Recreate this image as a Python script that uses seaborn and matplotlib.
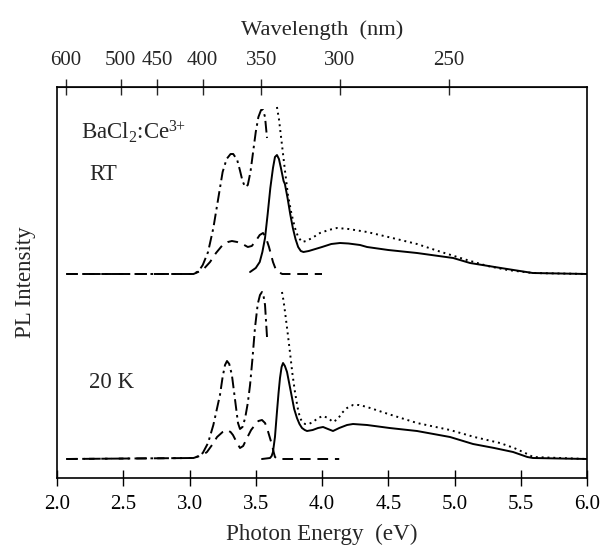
import numpy as np
import pandas as pd
import matplotlib
matplotlib.use("Agg")
import matplotlib.pyplot as plt
import seaborn as sns

# ---------------- data (photon energy eV, intensity a.u.) ----------------
# Room temperature: excitation (dash-dot), decomposed excitation (dashed),
# emission (solid) and emission under other excitation (dotted)
rt_exc_E = [2.07, 3.03, 3.07, 3.10, 3.14, 3.18, 3.22, 3.25, 3.28, 3.31, 3.33, 3.36, 3.38, 3.40, 3.42,
            3.44, 3.46, 3.48, 3.50, 3.52, 3.54, 3.555, 3.57, 3.585]
rt_exc_I = [0, 0, 3, 9, 22, 46, 78, 102, 115, 120, 120, 114, 104, 93, 87,
            89, 102, 122, 142, 157, 164, 164, 157, 136]

rt_dash_E = [2.07, 3.03, 3.10, 3.155, 3.20, 3.25, 3.29, 3.32, 3.36, 3.40, 3.44, 3.47, 3.50, 3.53, 3.555,
             3.575, 3.60, 3.63, 3.65, 3.67, 3.70, 4.00]
rt_dash_I = [0, 0, 4, 12, 21, 29, 32, 33, 32, 30, 27, 28, 33, 39, 41,
             37, 27, 12, 5, 2, 0, 0]

rt_em_E = [3.457, 3.50, 3.53, 3.55, 3.57, 3.59, 3.61, 3.63, 3.645, 3.66, 3.675, 3.69, 3.71, 3.72,
           3.74, 3.76, 3.78, 3.80, 3.82, 3.84, 3.86, 3.90, 3.95, 4.00, 4.07, 4.136, 4.20, 4.287,
           4.34, 4.50, 4.717, 4.99, 5.117, 5.35, 5.59, 6.0]
rt_em_I = [2, 6, 12, 22, 36, 60, 86, 106, 117, 119, 115, 106, 93, 90,
           76, 60, 46, 35, 27, 23, 22, 23, 25, 27, 30, 31, 30.5, 29,
           27, 24, 21, 16, 11, 6, 1, 0]

rt_dot_E = [3.66, 3.675, 3.698, 3.72, 3.743, 3.77, 3.796, 3.82, 3.849, 3.88, 3.925, 3.985, 4.05, 4.113,
            4.20, 4.34, 4.50, 4.717, 4.90, 5.094, 5.25, 5.40, 5.59, 6.0]
rt_dot_I = [167, 155, 129, 104, 79, 60, 46, 37, 32, 33, 36, 41, 44, 46,
            45, 42, 37, 30, 22, 14, 8, 4, 1, 0]

# 20 K
lt_exc_E = [2.07, 3.03, 3.07, 3.10, 3.14, 3.18, 3.21, 3.23, 3.25, 3.268, 3.283, 3.30, 3.32, 3.343,
            3.366, 3.381, 3.40, 3.42, 3.44, 3.457, 3.475, 3.494, 3.515, 3.532, 3.547, 3.56, 3.57, 3.585]
lt_exc_I = [0, 1, 3, 6, 16, 34, 52, 64, 82, 94, 98, 95, 84, 60,
            36, 30, 32, 41, 56, 74, 100, 131, 155, 164, 167, 162, 154, 122]

lt_dash_E = [2.07, 3.03, 3.10, 3.132, 3.17, 3.208, 3.25, 3.283, 3.31, 3.328, 3.355, 3.381, 3.405,
             3.434, 3.465, 3.494, 3.52, 3.547, 3.57, 3.585, 3.605, 3.623, 3.635, 3.645, 3.665, 4.13]
lt_dash_I = [0, 1, 4, 7, 14, 22, 27, 29, 27, 24, 17, 11, 13,
             21, 29, 34, 38, 39, 36, 31, 22, 14, 7, 2, 0, 0]

lt_em_E = [3.547, 3.608, 3.62, 3.63, 3.645, 3.66, 3.672, 3.683, 3.695, 3.706, 3.72, 3.736, 3.755,
           3.774, 3.79, 3.811, 3.83, 3.849, 3.87, 3.887, 3.93, 3.97, 4.008, 4.045, 4.083, 4.13,
           4.189, 4.234, 4.34, 4.51, 4.717, 4.966, 5.14, 5.30, 5.442, 5.55, 5.592, 6.0]
lt_em_I = [0, 1, 3, 7, 22, 47, 66, 81, 92, 96, 93, 87, 74,
           61, 50, 41, 35, 31, 29, 28, 29, 31, 32, 30, 28, 31,
           34, 35, 34, 31, 28, 22, 15, 11, 7, 2, 1, 0]

lt_dot_E = [3.698, 3.71, 3.721, 3.74, 3.758, 3.776, 3.796, 3.815, 3.834, 3.852, 3.872, 3.90, 3.932,
            3.97, 4.008, 4.045, 4.083, 4.12, 4.15, 4.189, 4.234, 4.28, 4.34, 4.50, 4.717, 4.966,
            5.15, 5.343, 5.45, 5.55, 5.592, 6.0]
lt_dot_I = [167, 158, 147, 127, 107, 86, 67, 52, 41, 37, 35, 35, 37,
            41, 43, 41, 37, 40, 46, 51, 54, 54, 52, 45, 36, 29,
            22, 16, 11, 5, 2, 0]

wl_ticks = [600, 500, 450, 400, 350, 300, 250]
e_ticks = [2.0, 2.5, 3.0, 3.5, 4.0, 4.5, 5.0, 5.5, 6.0]

RT_OFFSET = 185

# ---------------- style ----------------
sns.set_style("ticks")
plt.rcParams["font.family"] = ["Liberation Serif", "DejaVu Serif"]
plt.rcParams["mathtext.fontset"] = "custom"
plt.rcParams["mathtext.rm"] = "Liberation Serif"
plt.rcParams["mathtext.it"] = "Liberation Serif:italic"

fig = plt.figure(figsize=(6.0, 5.45), dpi=100)
ax = fig.add_axes([57 / 600, 1 - 478 / 545, 530 / 600, 391 / 545])

dashdot = (0, (6, 2.2, 1.3, 2.2))
dashed = (0, (5.5, 3.5))
dotted = (0, (1, 2.0))

series = [
    (rt_exc_E, rt_exc_I, RT_OFFSET, dashdot),
    (rt_dash_E, rt_dash_I, RT_OFFSET, dashed),
    (rt_em_E, rt_em_I, RT_OFFSET, "-"),
    (rt_dot_E, rt_dot_I, RT_OFFSET, dotted),
    (lt_exc_E, lt_exc_I, 0, dashdot),
    (lt_dash_E, lt_dash_I, 0, dashed),
    (lt_em_E, lt_em_I, 0, "-"),
    (lt_dot_E, lt_dot_I, 0, dotted),
]
for E, I, off, ls in series:
    df = pd.DataFrame({"E": E, "I": np.asarray(I, float) + off})
    sns.lineplot(data=df, x="E", y="I", ax=ax, color="black", linewidth=1.4,
                 linestyle=ls, sort=False, estimator=None)

ax.set_xlim(2.0, 6.0)
ax.set_ylim(-19, 372)
ax.set_yticks([])
ax.set_xticks(e_ticks)
ax.set_xticklabels([f"{t:.1f}" for t in e_ticks], fontsize=15)
ax.tick_params(axis="x", direction="inout", length=12, width=1.0, pad=6, colors="black")
for s in ax.spines.values():
    s.set_linewidth(1.2)
    s.set_color("black")

ax.set_xlabel("Photon Energy  (eV)", fontsize=16.7, labelpad=7)
ax.set_ylabel("PL Intensity", fontsize=16.5, labelpad=15)


def e2wl(x):
    x = np.asarray(x, float)
    with np.errstate(divide="ignore"):
        return 1239.84 / x


sec = ax.secondary_xaxis("top", functions=(e2wl, e2wl))
sec.set_xticks(wl_ticks)
sec.set_xticklabels([str(t) for t in wl_ticks], fontsize=15)
sec.tick_params(axis="x", direction="inout", length=12, width=1.0, pad=6)
sec.set_xlabel("Wavelength  (nm)", fontsize=16.2, labelpad=12)

ax.text(0.045, 0.885, r"BaCl$_2$:Ce$^{3\!\!+}$", transform=ax.transAxes, fontsize=16.5, va="center")
ax.text(0.06, 0.775, "RT", transform=ax.transAxes, fontsize=16.5, va="center")
ax.text(0.06, 0.245, "20 K", transform=ax.transAxes, fontsize=16.5, va="center")

fig.savefig("out.png", dpi=100)
